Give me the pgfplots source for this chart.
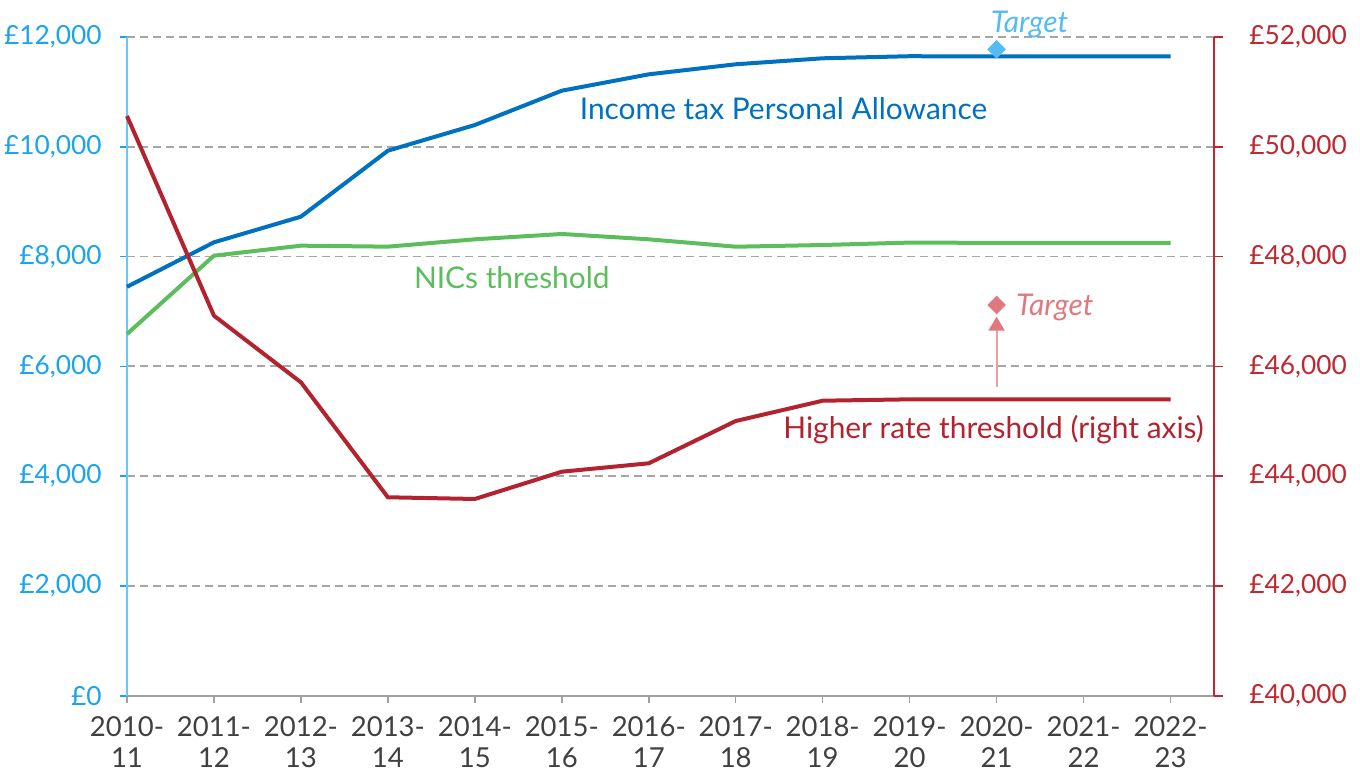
\documentclass[border=0pt]{standalone}
\usepackage{pgfplots}
\pgfplotsset{compat=1.18}
\usepackage{fontspec}
\setmainfont{Lato}
\usetikzlibrary{arrows.meta}
\definecolor{palblue}{HTML}{0070C0}
\definecolor{nicgreen}{HTML}{5CBD5C}
\definecolor{hrred}{HTML}{B3232F}
\definecolor{leftlab}{HTML}{1AA3EE}
\definecolor{leftaxis}{HTML}{6CC4F7}
\definecolor{rightlab}{HTML}{C0282F}
\definecolor{tgtblue}{HTML}{55BBF5}
\definecolor{tgtpink}{HTML}{E07880}
\definecolor{arrowpink}{HTML}{EBA0A6}
\definecolor{gridgray}{HTML}{A6A6A6}
\definecolor{axgray}{HTML}{A0A0A0}
\definecolor{xlab}{HTML}{404040}

\pgfplotstableread{
x pa nic
0 7450 6590
1 8260 8017
2 8727 8199
3 9929 8181
4 10397 8315
5 11022 8412
6 11320 8315
7 11503 8180
8 11612 8211
9 11650 8255
10 11645 8250
11 11645 8250
12 11645 8250
}\lefttable

\pgfplotstableread{
x hr
0 50561
1 46924
2 45710
3 43616
4 43585
5 44082
6 44235
7 45005
8 45375
9 45400
10 45400
11 45400
12 45400
}\righttable

\begin{document}
\begin{tikzpicture}
\useasboundingbox (-63.5bp,-39.1bp) rectangle (616.5bp,347.9bp);
\begin{axis}[
  at={(0,0)}, anchor=south west,
  scale only axis, width=543.5bp, height=329.4bp,
  xmin=0, xmax=12.5, ymin=0, ymax=12000,
  axis y line*=left, axis x line*=bottom,
  clip=false,
  scaled y ticks=false,
  xtick={0,...,12},
  xticklabels={{2010-\\11},{2011-\\12},{2012-\\13},{2013-\\14},{2014-\\15},{2015-\\16},{2016-\\17},{2017-\\18},{2018-\\19},{2019-\\20},{2020-\\21},{2021-\\22},{2022-\\23}},
  xticklabel style={align=center, font=\fontsize{13.8}{15.5}\selectfont, text=xlab, inner sep=0pt, anchor=north, yshift=-6.5bp},
  ytick={0,2000,...,12000},
  yticklabels={£0,{£2,000},{£4,000},{£6,000},{£8,000},{£10,000},{£12,000}},
  yticklabel style={font=\fontsize{13.2}{15}\selectfont, text=leftlab, anchor=east, inner sep=0pt, xshift=-9bp},
  tick align=outside,
  major tick length=3.5bp,
  x axis line style={draw=axgray, line width=0.75bp, -},
  y axis line style={draw=leftaxis, line width=0.75bp, -},
  xtick style={draw=axgray, line width=0.75bp},
  ytick style={draw=leftlab, line width=0.75bp},
  ymajorgrids,
  grid style={dash pattern=on 4bp off 2.5bp, draw=gridgray, line width=0.9bp},
]
\addplot[palblue, line width=2bp] table[x=x, y=pa] {\lefttable};
\addplot[nicgreen, line width=2bp] table[x=x, y=nic] {\lefttable};
\addplot[only marks, mark=square*, mark size=3.1bp, mark options={rotate=45, fill=tgtblue, draw=tgtblue}] coordinates {(10,11776)};
\node[anchor=base, text=palblue, font=\fontsize{15}{17}\selectfont] at (axis cs:7.55,10506) {Income tax Personal Allowance};
\node[anchor=base, text=nicgreen, font=\fontsize{15}{17}\selectfont] at (axis cs:4.425,7423) {NICs threshold};
\node[anchor=base west, inner sep=0pt, text=tgtblue, font=\fontsize{15}{17}\selectfont\itshape] at (axis cs:9.93,12090) {Target};
\end{axis}
\begin{axis}[
  at={(0,0)}, anchor=south west,
  scale only axis, width=543.5bp, height=329.4bp,
  xmin=0, xmax=12.5, ymin=40000, ymax=52000,
  axis y line*=right, axis x line=none,
  clip=false,
  scaled y ticks=false,
  ytick={40000,42000,...,52000},
  yticklabels={{£40,000},{£42,000},{£44,000},{£46,000},{£48,000},{£50,000},{£52,000}},
  yticklabel style={font=\fontsize{13.2}{15}\selectfont, text=rightlab, anchor=west, inner sep=0pt, xshift=13bp},
  tick align=outside,
  major tick length=4.5bp,
  y axis line style={draw=rightlab, line width=0.75bp, -},
  ytick style={draw=rightlab, line width=0.75bp},
]
\addplot[hrred, line width=2bp] table[x=x, y=hr] {\righttable};
\addplot[arrowpink, line width=1bp, -{Triangle[width=8bp,length=7bp,color=tgtpink]}] coordinates {(10,45630) (10,46906)};
\addplot[only marks, mark=square*, mark size=3.1bp, mark options={rotate=45, fill=tgtpink, draw=tgtpink}] coordinates {(10,47118)};
\node[anchor=base west, inner sep=0pt, text=tgtpink, font=\fontsize{15}{17}\selectfont\itshape] at (axis cs:10.22,46936) {Target};
\node[anchor=base, text=hrred, font=\fontsize{15}{17}\selectfont] at (axis cs:9.966,44690) {Higher rate threshold (right axis)};
\end{axis}
\end{tikzpicture}
\end{document}
